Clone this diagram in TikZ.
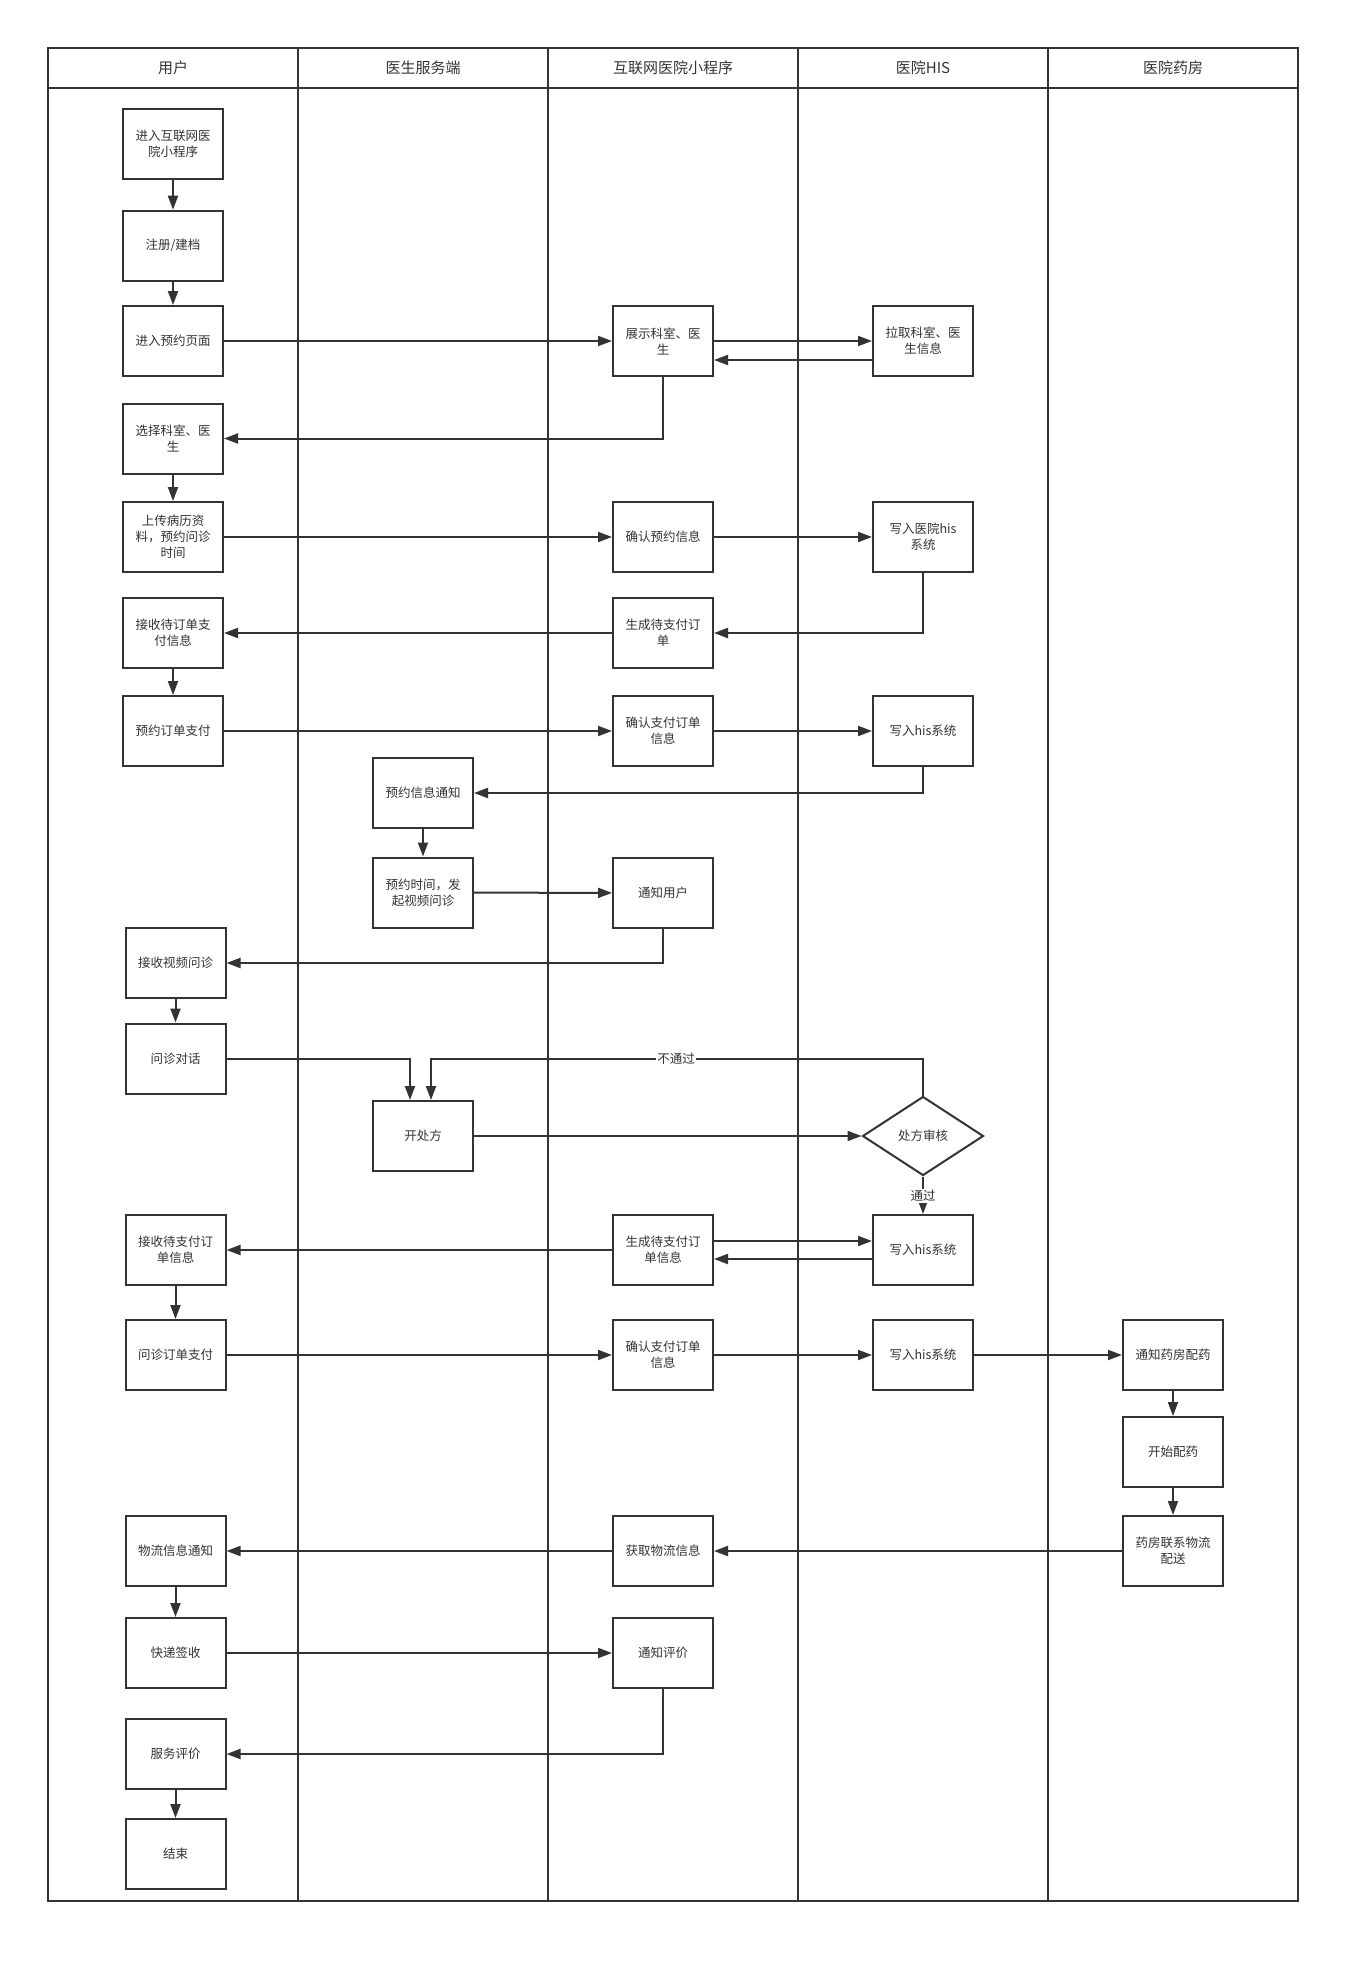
\documentclass[tikz,border=0pt]{standalone}
\usepackage{fontspec}
\newfontfamily\cjk{Noto Sans CJK SC}
\usetikzlibrary{arrows.meta,shapes.geometric}
\definecolor{ink}{HTML}{333333}
\begin{document}
\begin{tikzpicture}[x=1pt,y=-1pt,
  box/.style={draw=ink, line width=2pt, fill=white, minimum width=100pt, minimum height=70pt,
    inner sep=0pt, align=center, text=ink, font=\cjk\fontsize{12.5}{16}\selectfont},
  decision/.style={draw=ink, line width=2pt, fill=white, diamond, aspect=1.53,
    minimum width=121pt, minimum height=79pt, inner sep=0pt, text=ink,
    font=\cjk\fontsize{12.5}{16}\selectfont},
  head/.style={text=ink, font=\cjk\fontsize{15}{18}\selectfont},
  lbl/.style={fill=white, inner sep=1pt, text=ink, font=\cjk\fontsize{12.5}{15}\selectfont},
  lane/.style={draw=ink, line width=2pt},
  arr/.style={draw=ink, line width=2pt, -{Triangle[length=14pt,width=10pt]}}]
\useasboundingbox (0,0) rectangle (1360,1964);
% swimlane frame
\draw[lane] (48,48) rectangle (1298,1901);
\draw[lane] (48,88) -- (1298,88);
\foreach \x in {298,548,798,1048} \draw[lane] (\x,48) -- (\x,1901);
\node[head] (hu) at (173,68) {用户};
\node[head] (hd) at (423,68) {医生服务端};
\node[head] (hm) at (673,68) {互联网医院小程序};
\node[head] (hh) at (923,68) {医院HIS};
\node[head] (hp) at (1173,68) {医院药房};
% user lane
\node[box] (u1) at (173,144) {进入互联网医\\院小程序};
\node[box] (u2) at (173,245.7) {注册/建档};
\node[box] (u3) at (173,341) {进入预约页面};
\node[box] (u4) at (173,438.5) {选择科室、医\\生};
\node[box] (u5) at (173,537) {上传病历资\\料，预约问诊\\时间};
\node[box] (u6) at (173,633) {接收待订单支\\付信息};
\node[box] (u7) at (173,731) {预约订单支付};
\node[box] (u8) at (175.5,963) {接收视频问诊};
\node[box] (u9) at (175.5,1058.5) {问诊对话};
\node[box] (u10) at (175.5,1250) {接收待支付订\\单信息};
\node[box] (u11) at (175.5,1355) {问诊订单支付};
\node[box] (u12) at (175.5,1551) {物流信息通知};
\node[box] (u13) at (175.5,1653) {快递签收};
\node[box] (u14) at (175.5,1754) {服务评价};
\node[box] (u15) at (175.5,1854) {结束};
% doctor lane
\node[box] (d1) at (423,793) {预约信息通知};
\node[box] (d2) at (423,892.5) {预约时间，发\\起视频问诊};
\node[box] (d3) at (423,1136) {开处方};
% mini program lane
\node[box] (m1) at (663,341) {展示科室、医\\生};
\node[box] (m2) at (663,537) {确认预约信息};
\node[box] (m3) at (663,633) {生成待支付订\\单};
\node[box] (m4) at (663,731) {确认支付订单\\信息};
\node[box] (m5) at (663,893) {通知用户};
\node[box] (m6) at (663,1250) {生成待支付订\\单信息};
\node[box] (m7) at (663,1355) {确认支付订单\\信息};
\node[box] (m8) at (663,1551) {获取物流信息};
\node[box] (m9) at (663,1653) {通知评价};
% HIS lane
\node[box] (h1) at (923,341) {拉取科室、医\\生信息};
\node[box] (h2) at (923,537) {写入医院his\\系统};
\node[box] (h3) at (923,731) {写入his系统};
\node[decision] (dia) at (923,1136) {处方审核};
\node[box] (h4) at (923,1250) {写入his系统};
\node[box] (h5) at (923,1355) {写入his系统};
% pharmacy lane
\node[box] (p1) at (1173,1355) {通知药房配药};
\node[box] (p2) at (1173,1452) {开始配药};
\node[box] (p3) at (1173,1551) {药房联系物流\\配送};
% connectors
\draw[arr] (u1) -- (u2);
\draw[arr] (u2) -- (u3);
\draw[arr] (u3) -- (m1);
\draw[arr] (m1.east) -- (h1.west);
\draw[arr] ([yshift=-19pt]h1.west) -- ([yshift=-19pt]m1.east);
\draw[arr] (m1.south) |- (u4.east);
\draw[arr] (u4) -- (u5);
\draw[arr] (u5) -- (m2);
\draw[arr] (m2) -- (h2);
\draw[arr] (h2.south) |- (m3.east);
\draw[arr] (m3) -- (u6);
\draw[arr] (u6) -- (u7);
\draw[arr] (u7) -- (m4);
\draw[arr] (m4) -- (h3);
\draw[arr] (h3.south) |- (d1.east);
\draw[arr] (d1) -- (d2);
\draw[arr] (d2) -- (m5);
\draw[arr] (m5.south) |- (u8.east);
\draw[arr] (u8) -- (u9);
\draw[arr] (u9.east) -| ([xshift=-13pt]d3.north);
\coordinate (np) at (dia.north |- u9.east);
\draw[arr] (dia.north) -- (np) -| ([xshift=8pt]d3.north);
\node[lbl] (npl) at (676,1058.5) {不通过};
\draw[arr] (d3) -- (dia);
\draw[arr] (dia.south) -- (h4.north);
\node[lbl] (pl) at (923,1196) {通过};
\draw[arr] ([yshift=9pt]m6.east) -- ([yshift=9pt]h4.west);
\draw[arr] ([yshift=-9pt]h4.west) -- ([yshift=-9pt]m6.east);
\draw[arr] (m6) -- (u10);
\draw[arr] (u10) -- (u11);
\draw[arr] (u11) -- (m7);
\draw[arr] (m7) -- (h5);
\draw[arr] (h5) -- (p1);
\draw[arr] (p1) -- (p2);
\draw[arr] (p2) -- (p3);
\draw[arr] (p3) -- (m8);
\draw[arr] (m8) -- (u12);
\draw[arr] (u12) -- (u13);
\draw[arr] (u13) -- (m9);
\draw[arr] (m9.south) |- (u14.east);
\draw[arr] (u14) -- (u15);
\end{tikzpicture}
\end{document}
